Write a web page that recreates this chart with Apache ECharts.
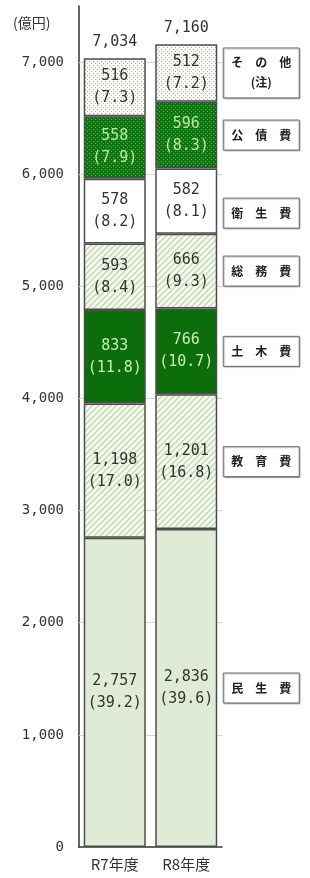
<!DOCTYPE html>
<html><head><meta charset="utf-8">
<script src="https://cdn.jsdelivr.net/npm/echarts@6/dist/echarts.min.js"></script>
<style>html,body{margin:0;padding:0;background:#fff}#c{width:310px;height:878px}</style>
</head><body><div id="c"></div>
<script>
// ---- data ----
const categories = ['R7年度', 'R8年度'];
const seriesNames = ['民生費', '教育費', '土木費', '総務費', '衛生費', '公債費', 'その他'];
const minsei = [2757, 2836];
const kyoiku = [1198, 1201];
const doboku = [833, 766];
const somu = [593, 666];
const eisei = [578, 582];
const kosai = [558, 596];
const sonota = [516, 512];
const minseiPct = [39.2, 39.6];
const kyoikuPct = [17.0, 16.8];
const dobokuPct = [11.8, 10.7];
const somuPct = [8.4, 9.3];
const eiseiPct = [8.2, 8.1];
const kosaiPct = [7.9, 8.3];
const sonotaPct = [7.3, 7.2];
const totals = [7034, 7160];
const yTicks = [0, 1000, 2000, 3000, 4000, 5000, 6000, 7000];
const unitLabel = '(億円)';
const noteLabel = '(注)';

// ---- patterns ----
function hatch(bg, line) {
  const c = document.createElement('canvas'); c.width = 6; c.height = 6;
  const g = c.getContext('2d');
  g.fillStyle = bg; g.fillRect(0, 0, 6, 6);
  g.strokeStyle = line; g.lineWidth = 1.5;
  g.beginPath();
  g.moveTo(-1, 7); g.lineTo(7, -1);
  g.moveTo(-1, 1); g.lineTo(1, -1);
  g.moveTo(5, 7); g.lineTo(7, 5);
  g.stroke();
  return { image: c, repeat: 'repeat' };
}
function dots(bg, dot) {
  const c = document.createElement('canvas'); c.width = 4; c.height = 4;
  const g = c.getContext('2d');
  g.fillStyle = bg; g.fillRect(0, 0, 4, 4);
  g.fillStyle = dot; g.fillRect(1, 1, 1.2, 1.2); g.fillRect(3, 3, 1.2, 1.2);
  return { image: c, repeat: 'repeat' };
}

const values = [minsei, kyoiku, doboku, somu, eisei, kosai, sonota];
const pcts = [minseiPct, kyoikuPct, dobokuPct, somuPct, eiseiPct, kosaiPct, sonotaPct];
const fills = [
  '#e0ebd5',
  hatch('#f6faf1', '#c4d9b0'),
  '#0b6e0b',
  hatch('#f6faf1', '#c4d9b0'),
  '#ffffff',
  dots('#0e750f', '#4faa50'),
  dots('#fbfcf8', '#a8b8a0')
];
const textColors = ['#333', '#333', '#c9ecb4', '#333', '#333', '#b8e8a0', '#333'];

const fmt = n => n.toLocaleString('en-US');
const MONO = '"DejaVu Sans Mono", monospace';
const CJK = '"Noto Sans CJK JP", sans-serif';

const series = values.map((arr, si) => ({
  name: seriesNames[si],
  type: 'bar',
  stack: 'total',
  barWidth: 62,
  data: arr,
  itemStyle: { color: fills[si], borderColor: '#4d4d4d', borderWidth: 1.5 },
  label: {
    show: true, position: 'inside',
    fontFamily: MONO, fontSize: 15, lineHeight: 22, color: textColors[si],
    formatter: p => fmt(arr[p.dataIndex]) + '\n(' + pcts[si][p.dataIndex].toFixed(1) + ')'
  },
  emphasis: { disabled: true },
  z: 3
}));
series[0].markLine = {
  silent: true, symbol: 'none', z: 1,
  label: { show: false },
  lineStyle: { color: '#d6d6d6', width: 1, type: 'solid' },
  data: yTicks.filter(v => v > 0).map(v => ({ yAxis: v }))
};
series.push({
  name: '合計', type: 'bar', stack: 'total', barWidth: 62,
  data: [0, 0],
  itemStyle: { color: 'transparent', borderWidth: 0 },
  label: {
    show: true, position: 'top', distance: 9,
    fontFamily: MONO, fontSize: 15, color: '#333',
    formatter: p => fmt(totals[p.dataIndex])
  },
  emphasis: { disabled: true },
  z: 3
});

const chart = echarts.init(document.getElementById('c'), null, { renderer: 'canvas' });
chart.setOption({
  animation: false,
  backgroundColor: '#fff',
  grid: { left: 79, right: 88, top: 6, bottom: 31, containLabel: false, outerBoundsMode: 'none' },
  xAxis: {
    type: 'category', data: categories,
    axisLine: { lineStyle: { color: '#333', width: 1.5 } },
    axisTick: { show: false },
    axisLabel: { fontFamily: CJK, fontSize: 15, color: '#333', margin: 10 }
  },
  yAxis: {
    type: 'value', min: 0, max: 7500, interval: 1000,
    axisLine: { show: true, lineStyle: { color: '#333', width: 1.5 } },
    axisTick: { show: false },
    splitLine: { show: false },
    axisLabel: { fontFamily: MONO, fontSize: 14, color: '#333', margin: 15, showMaxLabel: false,
      formatter: v => yTicks.includes(v) ? fmt(v) : '' }
  },
  series: series
});

// ---- category boxes beside the R8 bar ----
const idx = 1;
const xc = chart.convertToPixel({ xAxisIndex: 0 }, idx);
const boxLeft = xc + 31 + 6;
const shift = { '衛生費': 12 };
let cum = 0;
const graphics = [{
  type: 'text', left: 13, top: 16,
  style: { text: unitLabel, fontFamily: CJK, fontSize: 14, fill: '#333' }
}];
values.forEach((arr, si) => {
  const mid = cum + arr[idx] / 2;
  cum += arr[idx];
  const name = seriesNames[si];
  const y = chart.convertToPixel({ yAxisIndex: 0 }, mid) + (shift[name] || 0);
  const spaced = name.split('').join('　');
  const isNote = name === 'その他';
  const h = isNote ? 50 : 30;
  graphics.push({
    type: 'group', x: boxLeft, y: y,
    children: [
      { type: 'rect', shape: { x: 0, y: -h / 2, width: 76, height: h },
        style: { fill: '#fff', stroke: '#6a6a6a', lineWidth: 1, shadowColor: 'rgba(0,0,0,0.25)', shadowOffsetX: 1, shadowOffsetY: 1, shadowBlur: 1 } },
      { type: 'text', x: 38, y: isNote ? -1 : 0,
        style: { text: isNote ? spaced + '\n' + noteLabel : spaced, align: 'center', verticalAlign: 'middle',
          fontFamily: CJK, fontSize: 12, fontWeight: 'bold', lineHeight: 20, fill: '#222' } }
    ]
  });
});
chart.setOption({ graphic: graphics });
</script>
</body></html>
